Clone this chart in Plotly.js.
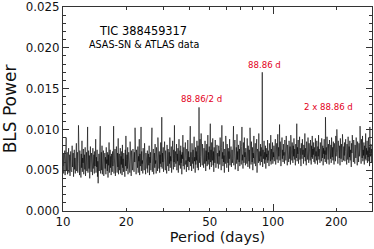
<!DOCTYPE html>
<html>
<head>
<meta charset="utf-8">
<script src="https://cdn.plot.ly/plotly-3.0.1.min.js"></script>
<style>
html,body{margin:0;padding:0;background:#fff;}
#chart{width:374px;height:249px;}
</style>
</head>
<body>
<div id="chart"></div>
<script>
// Period grid limits (days) and BLS power (units of 1e-4)
const periodMin = 10;
const periodMax = 296;
const powerE4 = [
55,70,46,63,52,74,44,60,68,90,49,58,72,45,64,53,77,47,61,69,43,57,73,50,66,48,80,54,62,71,42,59,75,51,65,46,70,56,83,49,
63,72,47,58,105,50,67,44,74,56,62,41,70,53,86,48,65,59,76,45,60,69,51,78,43,64,57,72,49,66,103,47,61,74,52,68,40,63,79,55,
48,71,58,65,44,77,52,60,69,46,73,55,63,88,47,66,54,75,42,61,34,58,70,49,67,53,104,46,62,72,50,80,45,64,57,74,43,68,59,71,
52,66,45,78,58,63,49,72,41,69,56,84,47,61,75,53,67,44,70,59,48,73,55,62,104,46,68,57,76,43,65,51,79,60,47,71,54,89,45,64,
70,50,62,77,46,67,57,73,44,81,53,64,48,71,59,66,42,75,55,92,49,63,69,52,78,45,60,72,56,67,47,85,58,62,43,74,54,68,50,76,
57,64,48,72,60,102,51,69,45,75,58,63,53,79,47,67,61,88,44,70,55,66,103,49,73,58,62,46,77,54,69,50,83,59,64,45,71,56,68,52,
74,47,63,70,56,80,44,66,59,72,50,87,61,102,48,68,57,76,45,64,71,53,82,58,62,46,78,55,67,49,90,60,65,52,73,47,69,58,84,54,
66,115,52,71,60,78,48,68,57,85,63,50,74,59,69,46,81,62,55,76,65,49,72,58,90,53,67,61,79,47,70,56,86,64,51,75,60,105,54,68,
73,58,64,82,50,70,61,77,47,67,88,56,63,74,52,80,59,69,45,72,64,93,55,66,78,51,71,60,84,57,62,48,76,68,54,87,61,73,50,66,
60,79,104,55,72,63,49,83,67,58,75,52,70,91,61,66,47,78,57,73,62,86,53,69,80,50,65,76,59,71,88,54,67,95,62,74,56,82,60,70,
53,77,64,58,86,70,49,74,61,82,55,68,93,57,72,63,79,51,66,107,60,75,54,84,68,62,89,56,73,48,78,65,59,87,70,53,76,62,81,58,
71,63,52,80,67,74,57,90,61,69,50,78,105,64,72,55,85,60,68,47,76,66,58,92,63,71,53,82,69,59,77,48,73,64,88,56,70,61,79,54,
67,75,59,64,83,104,56,72,62,87,51,70,66,78,58,94,63,73,49,81,68,60,76,55,86,64,71,57,79,103,62,69,52,84,74,59,90,66,72,56,
77,63,70,58,89,66,54,80,68,61,75,52,102,64,73,57,85,69,60,78,50,71,65,92,58,74,67,83,55,70,62,88,47,76,64,72,59,95,66,61,
73,56,82,67,78,60,71,91,54,75,64,69,86,58,72,63,80,52,77,66,70,59,87,62,74,68,55,83,65,71,61,93,57,76,69,63,84,58,72,66,
80,61,74,69,88,57,76,65,83,63,71,94,59,78,67,73,106,62,85,70,55,79,66,90,64,75,60,82,68,72,58,87,65,77,62,92,69,74,56,81,
66,73,60,86,70,64,79,57,93,68,75,62,84,71,59,80,67,89,63,76,69,56,82,72,65,107,61,78,70,87,58,74,66,91,63,77,68,55,83,71,
64,88,69,75,58,81,72,66,95,61,77,70,56,85,67,79,63,90,71,59,83,68,74,62,87,73,57,80,66,92,64,76,69,84,60,78,72,58,89,67,
73,62,86,70,57,79,67,93,63,76,71,59,84,68,75,61,89,72,65,80,56,77,70,88,64,74,60,85,69,78,58,91,66,73,63,82,70,57,87,68,
75,64,81,59,90,70,66,78,62,85,71,57,83,68,74,61,92,67,72,100,63,77,58,86,69,75,65,80,56,89,70,64,82,73,60,94,67,76,62,79,
68,84,61,73,88,65,77,57,82,70,63,91,72,59,79,66,86,62,75,69,54,83,71,93,64,76,60,87,68,74,58,81,70,65,90,63,78,56,85,69,
72,60,83,67,76,104,63,79,58,88,70,65,92,61,75,68,84,57,80,71,64,95,62,77,69,86,59,74,66,90,61,78,55,103,73,67,82,60,76,68
];
// Significant peaks (days, power)
const peakPeriods = [44.43, 88.86, 177.72];
const peakPowers = [0.0127, 0.0170, 0.0115];
const peakLabels = ["88.86/2 d", "88.86 d", "2 x 88.86 d"];

// x tick labels
const xTickVals = [10,20,30,40,50,60,70,80,90,100,200];
const xTickText = ["10","20","","","50","","","","","100","200"];
const xDecades = [10,100];

// Build series: one sample per grid period, plus the peak samples
const n = powerE4.length;
const lmin = Math.log10(periodMin), lmax = Math.log10(periodMax);
let pts = [];
for (let i = 0; i < n; i++) {
  const p = Math.pow(10, lmin + (lmax - lmin) * i / (n - 1));
  pts.push([p, powerE4[i] * 1e-4]);
}
for (let k = 0; k < peakPeriods.length; k++) pts.push([peakPeriods[k], peakPowers[k]]);
pts.sort((a, b) => a[0] - b[0]);
const xs = pts.map(d => d[0]);
const ys = pts.map(d => d[1]);

const FONT = "DejaVu Sans, Verdana, sans-serif";
const axisCol = "#333";
const RED = "#e3001b";

const trace = {
  x: xs, y: ys, type: "scatter", mode: "lines",
  line: {color: "#000", width: 0.6},
  hoverinfo: "skip"
};
const trace2 = {x: [10, 100], y: [null, null], xaxis: "x2", yaxis: "y", mode: "lines", showlegend: false, hoverinfo: "skip"};

const annotations = [
  {text: peakLabels[0], x: 1.661, y: 0.01375, xref: "x", yref: "y", showarrow: false,
   xanchor: "center", yanchor: "middle", font: {family: FONT, size: 8.6, color: RED}},
  {text: peakLabels[1], x: 1.9605, y: 0.0179, xref: "x", yref: "y", showarrow: false,
   xanchor: "center", yanchor: "middle", font: {family: FONT, size: 8.6, color: RED}},
  {text: peakLabels[2], x: 2.263, y: 0.01274, xref: "x", yref: "y", showarrow: false,
   xanchor: "center", yanchor: "middle", font: {family: FONT, size: 8.6, color: RED}},
  {text: "TIC 388459317", x: 0.26, y: 0.8826, xref: "paper", yref: "paper", showarrow: false,
   xanchor: "center", yanchor: "middle", font: {family: FONT, size: 11.4, color: "#000"}},
  {text: "ASAS-SN &amp; ATLAS data", x: 0.263, y: 0.814, xref: "paper", yref: "paper", showarrow: false,
   xanchor: "center", yanchor: "middle", font: {family: FONT, size: 9.6, color: "#000"}}
];

const layout = {
  width: 374, height: 249,
  margin: {l: 63, r: 2, t: 7, b: 38, pad: 0},
  paper_bgcolor: "#fff", plot_bgcolor: "#fff",
  showlegend: false,
  font: {family: FONT, color: "#000"},
  xaxis: {
    type: "log", range: [lmin, lmax],
    tickmode: "array", tickvals: xTickVals, ticktext: xTickText,
    ticks: "inside", ticklen: 3, tickwidth: 1, tickcolor: axisCol,
    showline: true, linecolor: axisCol, linewidth: 1, mirror: "ticks",
    showgrid: false, zeroline: false,
    tickfont: {family: FONT, size: 11.8, color: "#111"},
    title: {text: "Period (days)", font: {family: FONT, size: 14.5, color: "#111"}, standoff: 3}
  },
  xaxis2: {
    type: "log", range: [lmin, lmax], overlaying: "x", anchor: "y", side: "bottom",
    tickmode: "array", tickvals: xDecades, ticktext: ["", ""],
    ticks: "inside", ticklen: 7, tickwidth: 1, tickcolor: axisCol,
    showline: false, mirror: "ticks", showticklabels: false,
    showgrid: false, zeroline: false
  },
  yaxis: {
    range: [0, 0.025], dtick: 0.005, tick0: 0, tickformat: ".3f",
    ticks: "inside", ticklen: 6, tickwidth: 1, tickcolor: axisCol,
    minor: {dtick: 0.001, ticks: "inside", ticklen: 3, tickcolor: axisCol, showgrid: false},
    showline: true, linecolor: axisCol, linewidth: 1, mirror: "ticks",
    showgrid: false, zeroline: false,
    tickfont: {family: FONT, size: 11.8, color: "#111"},
    title: {text: "BLS Power", font: {family: FONT, size: 17, color: "#111"}, standoff: 5}
  },
  annotations: annotations
};

Plotly.newPlot("chart", [trace, trace2], layout, {staticPlot: true, displayModeBar: false});
</script>
</body>
</html>
